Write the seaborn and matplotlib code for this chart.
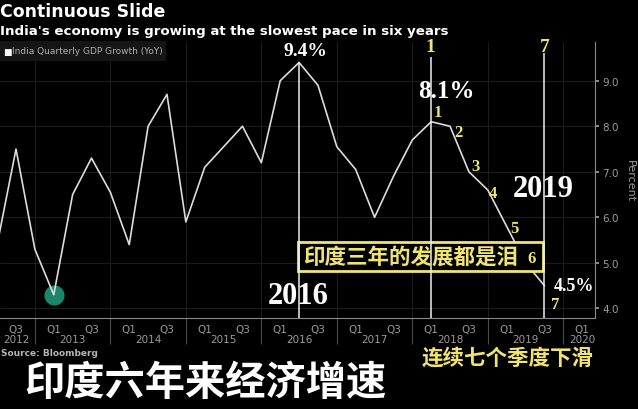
import matplotlib
matplotlib.use("Agg")
import matplotlib.pyplot as plt
import pandas as pd
import seaborn as sns
from matplotlib.patches import Rectangle

# ------------------------------------------------------------
# Data
# ------------------------------------------------------------
quarters = ["2012Q2", "2012Q3", "2012Q4",
            "2013Q1", "2013Q2", "2013Q3", "2013Q4",
            "2014Q1", "2014Q2", "2014Q3", "2014Q4",
            "2015Q1", "2015Q2", "2015Q3", "2015Q4",
            "2016Q1", "2016Q2", "2016Q3", "2016Q4",
            "2017Q1", "2017Q2", "2017Q3", "2017Q4",
            "2018Q1", "2018Q2", "2018Q3", "2018Q4",
            "2019Q1", "2019Q2", "2019Q3"]
growth = [5.4, 7.5, 5.3,
          4.3, 6.5, 7.3, 6.55,
          5.4, 8.0, 8.7, 5.9,
          7.1, 7.55, 8.0, 7.2,
          9.0, 9.4, 8.9, 7.55,
          7.05, 6.0, 6.9, 7.7,
          8.1, 8.0, 7.0, 6.6,
          5.8, 5.0, 4.5]

tick_quarters = ["2012Q3", "2013Q1", "2013Q3", "2014Q1", "2014Q3", "2015Q1", "2015Q3",
                 "2016Q1", "2016Q3", "2017Q1", "2017Q3", "2018Q1", "2018Q3",
                 "2019Q1", "2019Q3", "2020Q1"]
year_labels = ["2012", "2013", "2014", "2015", "2016", "2017", "2018", "2019", "2020"]
year_label_quarters = ["2012Q3", "2013Q2", "2014Q2", "2015Q2", "2016Q2",
                       "2017Q2", "2018Q2", "2019Q2", "2020Q1"]
separator_quarters = ["2012Q4", "2013Q4", "2014Q4", "2015Q4", "2016Q4",
                      "2017Q4", "2018Q4", "2019Q4"]
y_ticks = [4.0, 5.0, 6.0, 7.0, 8.0, 9.0]

highlight_quarter = "2013Q1"
marker_quarters = ["2016Q2", "2018Q1", "2019Q3"]
marker_tops = [9.42, 9.52, 9.6]


def qidx(s):
    return (int(s[:4]) - 2012) * 4 + int(s[-1]) - 1


df = pd.DataFrame({"quarter": quarters, "growth": growth})
df["q"] = df["quarter"].map(qidx)

# ------------------------------------------------------------
# Style
# ------------------------------------------------------------
sns.set_theme(style="dark", rc={"axes.facecolor": "black", "figure.facecolor": "black"})
plt.rcParams["font.family"] = ["DejaVu Sans", "Noto Sans CJK SC"]

W, H = 638, 410
GREY = "#9c9c9c"
YELLOW = "#f1e46e"
SERIF = "Liberation Serif"
CJK = "Noto Sans CJK SC"

fig = plt.figure(figsize=(W / 100, H / 100), dpi=100, facecolor="black")
ax = fig.add_axes([0, 1 - 319 / H, 595 / W, (319 - 43) / H])
ax.set_facecolor("black")

# line + highlighted low point
hl = df[df["quarter"] == highlight_quarter]
ax.scatter(hl["q"], hl["growth"], s=210, color="#1c8f72", alpha=0.95, zorder=1, linewidths=0)
sns.lineplot(data=df, x="q", y="growth", color="#dcdcdc", linewidth=1.2, ax=ax, zorder=2)

ax.set_xlim(1.152, 32.68)
ax.set_ylim(3.79, 9.85)

# vertical markers
ax.vlines([qidx(s) for s in marker_quarters], 3.79, marker_tops,
          color="#eeeeee", linewidth=1.1, zorder=4)

# x axis
ax.set_xticks([qidx(s) for s in tick_quarters])
ax.set_xticklabels([s[-2:] for s in tick_quarters])
ax.set_xticks([qidx(s) for s in separator_quarters], minor=True)
ax.tick_params(axis="x", which="major", colors=GREY, labelsize=7.5, length=2, pad=2)
ax.tick_params(axis="x", which="minor", color="#4a4a4a", length=19, width=0.8, bottom=True)
for yl, yq in zip(year_labels, year_label_quarters):
    ax.text(qidx(yq), -0.075, yl, transform=ax.get_xaxis_transform(),
            ha="center", va="center", color=GREY, fontsize=7.5)

# y axis on the right
ax.yaxis.tick_right()
ax.set_yticks(y_ticks)
ax.set_yticklabels([f"{v:.1f}" for v in y_ticks])
ax.tick_params(axis="y", colors=GREY, labelsize=7.5, length=3, pad=2, right=True)
ax.yaxis.set_label_position("right")
ax.set_ylabel("Percent", rotation=270, color=GREY, fontsize=8, labelpad=12)
ax.set_xlabel("")

ax.grid(True, axis="y", color="#1c1c1c", linewidth=0.8)
ax.grid(True, axis="x", which="minor", color="#1c1c1c", linewidth=0.8)
ax.grid(False, axis="x", which="major")
for side in ["top", "left"]:
    ax.spines[side].set_visible(False)
for side in ["right", "bottom"]:
    ax.spines[side].set_color("#8a8a8a")
    ax.spines[side].set_linewidth(0.8)


def ftext(x, y, s, **kw):
    fig.text(x / W, 1 - y / H, s, **kw)


# titles / legend / source
ftext(0, 12, "Continuous Slide", color="white", fontsize=12.5, weight="bold", va="center")
ftext(0, 32, "India's economy is growing at the slowest pace in six years",
      color="white", fontsize=9.6, weight="bold", va="center")
legend_bg = Rectangle((0, 1 - 62 / H), 166 / W, 20 / H, transform=fig.transFigure,
                      facecolor="#151515", edgecolor="none", zorder=3, clip_on=False)
ax.add_patch(legend_bg)
ftext(3, 52, "\u25a0", color="white", fontsize=6.5, va="center")
ftext(12, 52, "India Quarterly GDP Growth (YoY)", color="#b0b0b0", fontsize=6.5, va="center")
ftext(1, 354, "Source: Bloomberg", color="#b5b5b5", fontsize=6.5, weight="bold", va="center")

# yellow box
box = Rectangle((298 / W, 1 - 272 / H), (543 - 298) / W, (272 - 243) / H,
                transform=fig.transFigure, facecolor="black", edgecolor=YELLOW,
                linewidth=2, zorder=3, clip_on=False)
ax.add_patch(box)
ftext(303, 257, "印度三年的发展都是泪", color=YELLOW, fontsize=15.5, weight="bold",
      family=[CJK], va="center", ha="left")

# numeric annotations
ftext(305, 52, "9.4%", color="white", fontsize=14, weight="bold", family=SERIF, ha="center", va="center")
ftext(446, 92, "8.1%", color="white", fontsize=18, weight="bold", family=SERIF, ha="center", va="center")
ftext(543, 190, "2019", color="white", fontsize=22, weight="bold", family=SERIF, ha="center", va="center")
ftext(298, 297, "2016", color="white", fontsize=22, weight="bold", family=SERIF, ha="center", va="center")
ftext(574, 287, "4.5%", color="white", fontsize=13, weight="bold", family=SERIF, ha="center", va="center")
ftext(430, 47, "1", color=YELLOW, fontsize=14, weight="bold", family=SERIF, ha="center", va="center")
ftext(545, 47, "7", color=YELLOW, fontsize=14, weight="bold", family=SERIF, ha="center", va="center")

step_labels = ["1", "2", "3", "4", "5", "6", "7"]
step_pos = [(438, 113), (458, 133), (476, 167), (493, 194), (514, 229), (532, 259), (555, 305)]
for lab, (px, py) in zip(step_labels, step_pos):
    ftext(px, py, lab, color=YELLOW, fontsize=12, weight="bold", family=SERIF, ha="center", va="center")

# chinese captions
ftext(508, 358, "连续七个季度下滑", color=YELLOW, fontsize=15.5, weight="bold",
      family=[CJK], ha="center", va="center")
ftext(24, 384, "印度六年来经济增速", color="white", fontsize=29, weight="heavy",
      family=[CJK], ha="left", va="center")

fig.savefig("out.png", dpi=100, facecolor="black")
